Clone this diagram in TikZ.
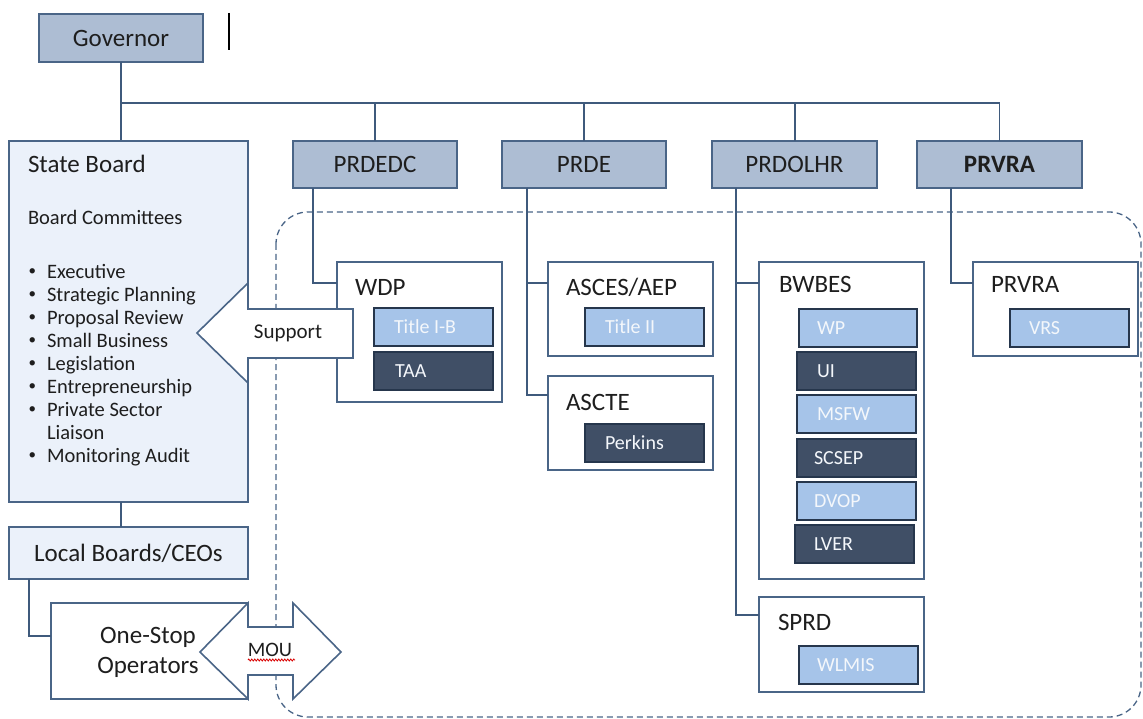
\documentclass[tikz,border=0pt]{standalone}
\usepackage{fontspec}
\setmainfont{Carlito}
\usetikzlibrary{decorations.pathmorphing}
\definecolor{hdr}{HTML}{ADBDD3}
\definecolor{bdr}{HTML}{4A6587}
\definecolor{sbfill}{HTML}{EBF1FA}
\definecolor{lite}{HTML}{A6C4E9}
\definecolor{dark}{HTML}{404F66}
\definecolor{subbdr}{HTML}{26364C}
\definecolor{ln}{HTML}{3F5A7C}
\definecolor{txt}{HTML}{1E1E1E}
\definecolor{wtxt}{HTML}{F4F7FB}
\begin{document}
\begin{tikzpicture}[x=1pt,y=-1pt,
  every node/.style={inner sep=0pt,outer sep=0pt,text=txt},
  big/.style={font=\fontsize{25}{30}\selectfont},
  small/.style={font=\fontsize{20.5}{23}\selectfont},
  hdrbox/.style={draw=bdr,fill=hdr,line width=1.6pt,big,anchor=north west},
  sbbox/.style={draw=bdr,fill=sbfill,line width=1.6pt,anchor=north west},
  cbox/.style={draw=bdr,fill=white,line width=1.5pt,anchor=north west},
  litebox/.style={draw=subbdr,fill=lite,line width=1.8pt,anchor=north west,minimum width=119pt,minimum height=38pt},
  darkbox/.style={draw=subbdr,fill=dark,line width=1.8pt,anchor=north west,minimum width=119pt,minimum height=38pt},
  subtxt/.style={text=wtxt,font=\fontsize{20}{24}\selectfont,anchor=base west},
  lbl/.style={big,anchor=base west},
  conn/.style={draw=ln,line width=1.5pt},
  arrowshape/.style={draw=bdr,fill=white,line width=1.6pt,line join=miter}
]
\useasboundingbox (0,0) rectangle (1143,719);

% dashed region
\draw[bdr,line width=1.3pt,dash pattern=on 6pt off 4pt,rounded corners=32pt]
  (276,212) rectangle (1141,717);

% cursor mark
\draw[black,line width=1.3pt] (229,13) -- (229,50);

% header boxes
\node[hdrbox,minimum width=164pt,minimum height=48pt] (gov) at (39,14) {Governor};
\node[hdrbox,minimum width=164pt,minimum height=47pt] (prdedc) at (293,141) {PRDEDC};
\node[hdrbox,minimum width=164pt,minimum height=47pt] (prde) at (502,141) {PRDE};
\node[hdrbox,minimum width=165pt,minimum height=47pt] (prdolhr) at (712,141) {PRDOLHR};
\node[hdrbox,minimum width=165pt,minimum height=47pt] (prvra) at (917,141) {\bfseries PRVRA};

% connectors
\coordinate (bus) at (121,103);
\draw[conn] (gov.south) -- (gov.south |- prdedc.north);
\draw[conn] (gov.south |- bus) -| (prvra.north);
\draw[conn] (prdedc.north) -- (prdedc.north |- bus);
\draw[conn] (prde.north) -- (prde.north |- bus);
\draw[conn] ([xshift=0.5pt]prdolhr.north) -- ([xshift=0.5pt]prdolhr.north |- bus);

% left column
\node[sbbox,minimum width=239pt,minimum height=361pt] (sb) at (9,141) {};
\node[sbbox,minimum width=239pt,minimum height=52pt,big] (local) at (9,527) {Local Boards/CEOs};
\draw[conn] (gov.south |- sb.south) -- (gov.south |- local.north);
\node[cbox,minimum width=197pt,minimum height=96pt] (ops) at (51,603) {};
\draw[conn] ([xshift=20pt]local.south west) |- ([yshift=15pt]ops.west);
\node[big,align=center] (opsT) at (148,652) {One-Stop\\Operators};

\node[lbl] (sbT) at (28,173) {State Board};
\node[small,anchor=base west] (bc) at (28,225) {Board Committees};
\foreach \t/\b/\k in {Executive/279/1,Strategic Planning/301.5/1,Proposal Review/324.5/1,Small Business/347.5/1,Legislation/370.5/1,Entrepreneurship/393.5/1,Private Sector/416.5/1,Liaison/439.5/0,Monitoring Audit/462.5/1}{
  \ifnum\k=1
    \node[font=\fontsize{15}{18}\selectfont,anchor=base west] (bul\b) at (28.5,\b-3) {•};
  \fi
  \node[small,anchor=base west] (item\b) at (47,\b) {\t};
}

% second-level containers
\node[cbox,minimum width=165pt,minimum height=140pt] (wdp) at (337,262) {};
\node[cbox,minimum width=165pt,minimum height=94pt] (asces) at (548,262) {};
\node[cbox,minimum width=165pt,minimum height=94pt] (ascte) at (548,376) {};
\node[cbox,minimum width=165pt,minimum height=317pt] (bwbes) at (759,262) {};
\node[cbox,minimum width=165pt,minimum height=95pt] (sprd) at (759,597) {};
\node[cbox,minimum width=165pt,minimum height=94pt] (prvras) at (973,262) {};

\draw[conn] ([xshift=20pt]prdedc.south west) |- ([yshift=-21pt]wdp.north west);
\draw[conn] ([xshift=25pt]prde.south west) |- ([yshift=-21pt]asces.north west);
\draw[conn] ([xshift=25pt]prde.south west) |- ([yshift=-19pt]ascte.north west);
\draw[conn] ([xshift=24pt]prdolhr.south west) |- ([yshift=-21pt]bwbes.north west);
\draw[conn] ([xshift=24pt]prdolhr.south west) |- ([yshift=-18pt]sprd.north west);
\draw[conn] ([xshift=34pt]prvra.south west) |- ([yshift=-21pt]prvras.north west);

\node[lbl] (wdpT) at (355,295) {WDP};
\node[lbl] (ascesT) at (566,295) {ASCES/AEP};
\node[lbl] (ascteT) at (566,410) {ASCTE};
\node[lbl] (bwbesT) at (779,293) {BWBES};
\node[lbl] (sprdT) at (778,630) {SPRD};
\node[lbl] (prvrasT) at (991,293) {PRVRA};

% program boxes
\node[litebox] (tib) at (374,308) {};
\node[darkbox] (taa) at (374,352) {};
\node[litebox] (t2) at (585,308) {};
\node[darkbox] (perk) at (585,424) {};
\node[litebox,minimum width=118pt] (wp) at (799,309) {};
\node[darkbox] (ui) at (797,352) {};
\node[litebox] (msfw) at (797,395) {};
\node[darkbox] (scsep) at (797,439) {};
\node[litebox] (dvop) at (797,482) {};
\node[darkbox] (lver) at (795,525) {};
\node[litebox] (wlmis) at (799,646) {};
\node[litebox] (vrs) at (1010,309) {};

\node[subtxt] (tibT) at ([xshift=20pt,yshift=-6.6pt]tib.west) {Title I-B};
\node[subtxt] (taaT) at ([xshift=21pt,yshift=-6.6pt]taa.west) {TAA};
\node[subtxt] (t2T) at ([xshift=20pt,yshift=-6.6pt]t2.west) {Title II};
\node[subtxt] (perkT) at ([xshift=20pt,yshift=-6.6pt]perk.west) {Perkins};
\node[subtxt] (wpT) at ([xshift=18pt,yshift=-6.6pt]wp.west) {WP};
\node[subtxt] (uiT) at ([xshift=20pt,yshift=-6.6pt]ui.west) {UI};
\node[subtxt] (msfwT) at ([xshift=20pt,yshift=-6.6pt]msfw.west) {MSFW};
\node[subtxt] (scsepT) at ([xshift=17pt,yshift=-6.6pt]scsep.west) {SCSEP};
\node[subtxt] (dvopT) at ([xshift=17pt,yshift=-6.6pt]dvop.west) {DVOP};
\node[subtxt] (lverT) at ([xshift=19pt,yshift=-6.6pt]lver.west) {LVER};
\node[subtxt] (wlmisT) at ([xshift=18pt,yshift=-6.6pt]wlmis.west) {WLMIS};
\node[subtxt] (vrsT) at ([xshift=19pt,yshift=-6.6pt]vrs.west) {VRS};

% Support arrow
\draw[arrowshape] (197,333) -- (248,283) -- (248,309) -- (353,309) -- (353,358)
  -- (248,358) -- (248,383) -- cycle;
\node[font=\fontsize{21}{24}\selectfont] (sup) at (288,333) {Support};

% MOU double arrow
\draw[arrowshape] (200,652) -- (248,603) -- (248,627) -- (293,627) -- (293,603)
  -- (341,652) -- (293,699) -- (293,675) -- (248,675) -- (248,699) -- cycle;
\node[font=\fontsize{20.5}{24}\selectfont] (mou) at (270,650) {MOU};
\draw[red!85!black,line width=0.8pt,decorate,decoration={zigzag,segment length=3pt,amplitude=1pt}]
  (248,660) -- (295,660);
\end{tikzpicture}
\end{document}
